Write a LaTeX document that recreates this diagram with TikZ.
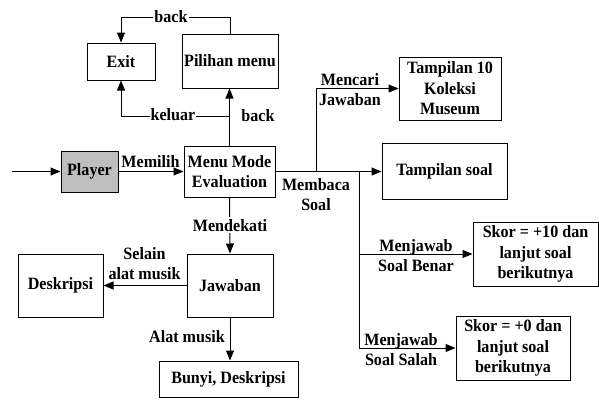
\documentclass[tikz,border=0pt]{standalone}
\usepackage{fontspec}
\setmainfont{Liberation Serif}[FakeStretch=0.93]
\usetikzlibrary{arrows.meta}
\begin{document}
\begin{tikzpicture}[x=1pt,y=-1pt,
  txt/.style={font=\bfseries\fontsize{17.3}{20.5}\selectfont},
  box/.style={txt, draw, line width=1pt, align=center, inner sep=0pt},
  lbl/.style={txt, align=center, inner sep=0pt},
  ln/.style={line width=1pt},
  arr/.style={line width=1pt, -{Triangle[length=10pt,width=8pt]}}]
\useasboundingbox (0,0) rectangle (599,399);

% boxes
\node[box, minimum width=68, minimum height=37] (exit) at (121,61.5) {Exit};
\node[box, minimum width=96, minimum height=54] (pil) at (230,61) {Pilihan menu};
\node[box, minimum width=57, minimum height=41, fill=black!25] (player) at (89.5,171.5) {Player};
\node[box, minimum width=91, minimum height=51] (menu) at (229.5,171.5) {Menu Mode\\Evaluation};
\node[box, minimum width=102, minimum height=63] (koleksi) at (450,88.5) {Tampilan 10\\Koleksi\\Museum};
\node[box, minimum width=125, minimum height=56] (soal) at (444.5,171.5) {Tampilan soal};
\node[box, minimum width=86, minimum height=63] (jawaban) at (230,285.5) {Jawaban};
\node[box, minimum width=85, minimum height=63] (deskripsi) at (60.5,285.5) {Deskripsi};
\node[box, minimum width=139, minimum height=36] (bunyi) at (228.5,379) {Bunyi, Deskripsi};
\node[box, minimum width=125, minimum height=64] (benar) at (535.5,254) {Skor = +10 dan\\lanjut soal\\berikutnya};
\node[box, minimum width=114, minimum height=64] (salah) at (513,348) {Skor = +0 dan\\lanjut soal\\berikutnya};

% junction points
\coordinate (start) at (12,171.5);
\coordinate (kj) at (229.5,116);
\coordinate (bk) at (230,17);
\coordinate (j1) at (316,171.5);
\coordinate (j2) at (359,171.5);

% connectors
\draw[arr] (start) -- (player.west);
\draw[arr] (player.east) -- (menu.west);
\draw[arr] (menu.north) -- (menu.north |- pil.south);
\draw[arr] (kj) -| (exit.south);
\draw[arr] (pil.north) -- (bk) -| (exit.north);
\draw[arr] (menu.east) -- (soal.west);
\draw[arr] (j1) |- (koleksi.west);
\draw[ln] (j2) -- (359,348);
\draw[arr] (j2) |- (benar.west);
\draw[arr] (j2) |- (salah.west);
\draw[arr] (menu.south) -- (jawaban.north);
\draw[arr] (jawaban.west) -- (deskripsi.east);
\draw[arr] (jawaban.south) -- (jawaban.south |- bunyi.north);

% labels
\node[lbl, anchor=base] at (150.5,167) {Memilih};
\node[lbl, anchor=base] at (258,121.5) {back};
\node[lbl, anchor=base, fill=white, inner xsep=1pt] at (173,120.5) {keluar};
\node[lbl, anchor=base, fill=white, inner xsep=1pt] at (171,22) {back};
\node[lbl, anchor=north] at (316,178) {Membaca\\Soal};
\node[lbl, anchor=north] at (350,73) {Mencari\\Jawaban};
\node[lbl, anchor=north] at (416,239) {Menjawab\\Soal Benar};
\node[lbl, anchor=north] at (401,333) {Menjawab\\Soal Salah};
\node[lbl, anchor=base, fill=white, inner ysep=2pt] at (230,231) {Mendekati};
\node[lbl, anchor=north] at (144.5,247) {Selain\\alat musik};
\node[lbl, anchor=base] at (187,342) {Alat musik};
\end{tikzpicture}
\end{document}
